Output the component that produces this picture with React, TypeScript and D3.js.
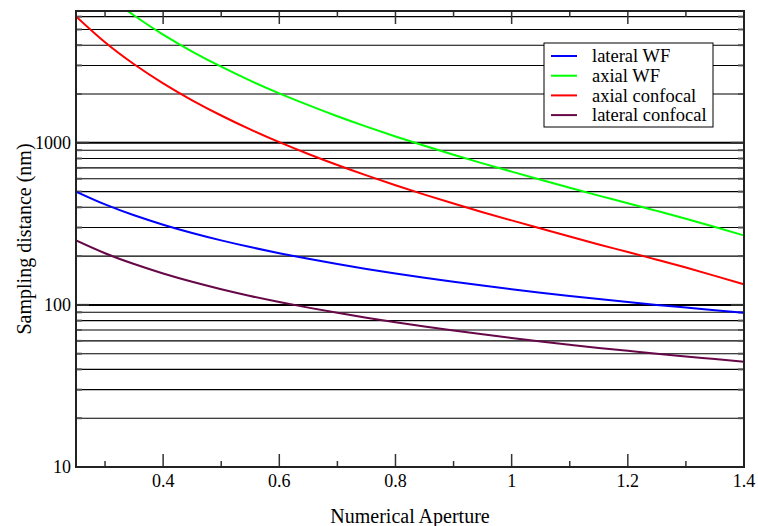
import * as d3 from "d3";

// numerical aperture samples and sampling distances (nm)
const numericalAperture = [0.25, 0.3, 0.35, 0.4, 0.45, 0.5, 0.55, 0.6, 0.65, 0.7, 0.75, 0.8, 0.85, 0.9, 0.95, 1.0, 1.05, 1.1, 1.15, 1.2, 1.25, 1.3, 1.35, 1.4];
const lateralWF = [500, 416.7, 357.1, 312.5, 277.8, 250, 227.3, 208.3, 192.3, 178.6, 166.7, 156.3, 147.1, 138.9, 131.6, 125, 119.0, 113.6, 108.7, 104.2, 100, 96.2, 92.6, 89.3];
const axialWF = [12040, 8334, 6100, 4650, 3656, 2946, 2418, 2018, 1706, 1458, 1258, 1094, 958, 844, 746, 664, 592, 528, 472, 424, 380, 340, 302, 268];
const axialConfocal = [6019, 4167, 3050, 2325, 1828, 1473, 1209, 1009, 853, 729, 629, 547, 479, 422, 373, 332, 296, 264, 236, 212, 190, 170, 151, 134];
const lateralConfocal = [250, 208.3, 178.6, 156.3, 138.9, 125, 113.6, 104.2, 96.2, 89.3, 83.3, 78.1, 73.5, 69.4, 65.8, 62.5, 59.5, 56.8, 54.3, 52.1, 50, 48.1, 46.3, 44.6];

const seriesNames = ["lateral WF", "axial WF", "axial confocal", "lateral confocal"];
const seriesValues = [lateralWF, axialWF, axialConfocal, lateralConfocal];
const seriesColors = ["#0000ff", "#00ff00", "#ff0000", "#670748"];

const xMajorTicks = [0.4, 0.6, 0.8, 1.0, 1.2, 1.4];
const xMinorTicks = [0.3, 0.5, 0.7, 0.9, 1.1, 1.3];
const yMajorTicks = [10, 100, 1000];
const yMinorTicks = [20, 30, 40, 50, 60, 70, 80, 90, 200, 300, 400, 500, 600, 700, 800, 900, 2000, 3000, 4000, 5000, 6000];

const W = 758;
const H = 526;
const pad = { left: 76, right: 14, top: 11, bottom: 59 };
const font = "Liberation Serif";
const frameColor = "#222";

const App = () => {
  const x0 = pad.left;
  const x1 = W - pad.right;
  const y0 = H - pad.bottom;
  const y1 = pad.top;

  const xScale = d3.scaleLinear().domain([0.25, 1.4]).range([x0, x1]);
  const yScale = d3.scaleLog().domain([10, 6500]).range([y0, y1]);

  const line = d3
    .line<number>()
    .x((d, i) => xScale(numericalAperture[i]))
    .y((d) => yScale(d))
    .curve(d3.curveNatural);

  const majorLen = 13;
  const minorLen = 6;

  return (
    <svg width={W} height={H} style={{ position: "absolute", left: 0, top: 0, background: "#fff" }}>
      <defs>
        <clipPath id="plotClip">
          <rect x={x0} y={y1} width={x1 - x0} height={y0 - y1} />
        </clipPath>
      </defs>

      {/* horizontal grid */}
      {yMinorTicks.map((v) => (
        <line key={"gm" + v} x1={x0} x2={x1} y1={yScale(v)} y2={yScale(v)} stroke="#000" strokeWidth={1.1} />
      ))}
      {yMajorTicks.map((v) => (
        <line key={"gM" + v} x1={x0} x2={x1} y1={yScale(v)} y2={yScale(v)} stroke="#000" strokeWidth={2} />
      ))}

      {/* y ticks left + right */}
      {yMinorTicks.map((v) => (
        <g key={"ym" + v} stroke="#555" strokeWidth={2}>
          <line x1={x0} x2={x0 + minorLen} y1={yScale(v)} y2={yScale(v)} />
          <line x1={x1} x2={x1 - minorLen} y1={yScale(v)} y2={yScale(v)} />
        </g>
      ))}
      {yMajorTicks.map((v) => (
        <g key={"yM" + v} stroke="#333" strokeWidth={2}>
          <line x1={x0} x2={x0 + majorLen} y1={yScale(v)} y2={yScale(v)} />
          <line x1={x1} x2={x1 - majorLen} y1={yScale(v)} y2={yScale(v)} />
        </g>
      ))}

      {/* x ticks bottom + top */}
      {xMinorTicks.map((v) => (
        <g key={"xm" + v} stroke="#333" strokeWidth={1.5}>
          <line x1={xScale(v)} x2={xScale(v)} y1={y0} y2={y0 - minorLen} />
          <line x1={xScale(v)} x2={xScale(v)} y1={y1} y2={y1 + minorLen} />
        </g>
      ))}
      {xMajorTicks.map((v) => (
        <g key={"xM" + v} stroke="#333" strokeWidth={1.5}>
          <line x1={xScale(v)} x2={xScale(v)} y1={y0} y2={y0 - majorLen} />
          <line x1={xScale(v)} x2={xScale(v)} y1={y1} y2={y1 + majorLen} />
        </g>
      ))}

      {/* curves */}
      <g clipPath="url(#plotClip)">
        {seriesValues.map((vals, i) => (
          <path key={seriesNames[i]} d={line(vals) || ""} fill="none" stroke={seriesColors[i]} strokeWidth={2} />
        ))}
      </g>

      {/* frame */}
      <rect x={x0} y={y1} width={x1 - x0} height={y0 - y1} fill="none" stroke={frameColor} strokeWidth={2} />

      {/* tick labels */}
      {xMajorTicks.map((v) => (
        <text key={"xl" + v} x={xScale(v)} y={y0 + 20} textAnchor="middle" fontFamily={font} fontSize={18} fill="#000">
          {d3.format("~g")(v)}
        </text>
      ))}
      {yMajorTicks.map((v) => (
        <text key={"yl" + v} x={x0 - 5} y={yScale(v)} dy="0.35em" textAnchor="end" fontFamily={font} fontSize={18} fill="#000">
          {v}
        </text>
      ))}

      {/* axis titles */}
      <text x={(x0 + x1) / 2} y={H - 3} textAnchor="middle" fontFamily={font} fontSize={20} fill="#000">
        Numerical Aperture
      </text>
      <text
        transform={`translate(${31}, ${(y0 + y1) / 2}) rotate(-90)`}
        textAnchor="middle"
        fontFamily={font}
        fontSize={20}
        fill="#000"
      >
        Sampling distance (nm)
      </text>

      {/* legend */}
      <g transform="translate(544, 43)">
        <rect x={0} y={0} width={169} height={84} fill="#fff" stroke="#000" strokeWidth={1} />
        {seriesNames.map((name, i) => (
          <g key={"lg" + name} transform={`translate(0, ${13 + i * 19.7})`}>
            <line x1={7} x2={33} y1={0} y2={0} stroke={seriesColors[i]} strokeWidth={2} />
            <text x={48} y={0} dy="0.33em" fontFamily={font} fontSize={18.5} fill="#000">
              {name}
            </text>
          </g>
        ))}
      </g>
    </svg>
  );
};

export default App;
